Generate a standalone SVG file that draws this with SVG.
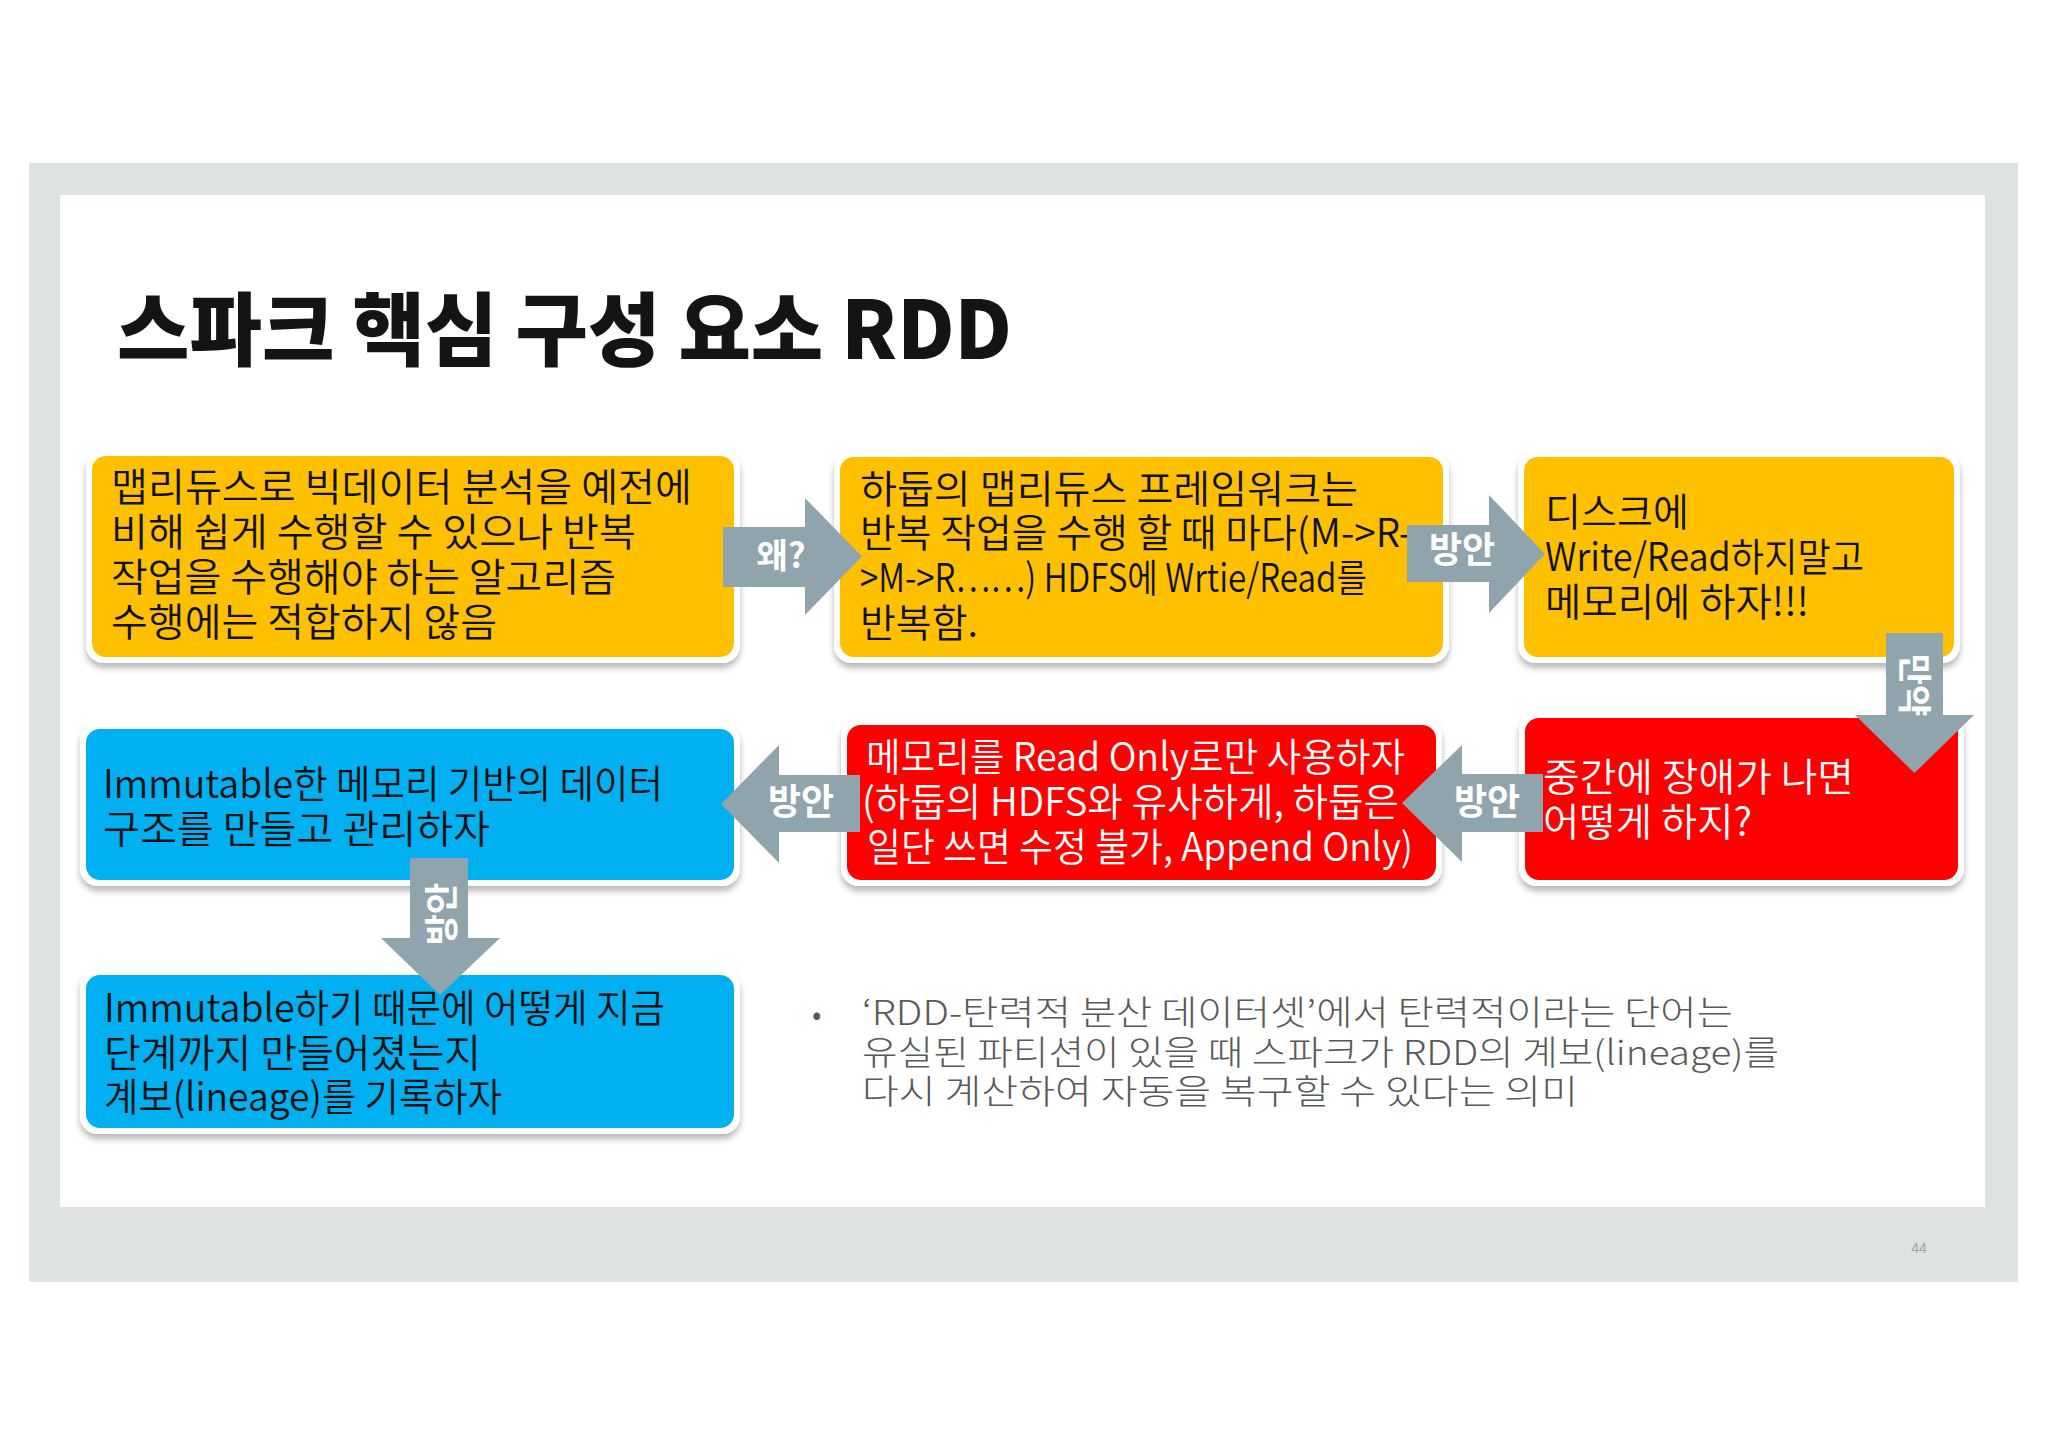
<svg xmlns="http://www.w3.org/2000/svg" width="2048" height="1447" viewBox="0 0 2048 1447">
<defs>
<filter id="sh" x="-5%" y="-10%" width="110%" height="125%">
<feDropShadow dx="0" dy="5" stdDeviation="3" flood-color="#000" flood-opacity="0.28"/>
</filter>
<style>
.frame{fill:#DEE2E2}
.slide{fill:#FFFFFF}
.outer{fill:#FFFFFF;filter:url(#sh)}
.yel{fill:#FFC000}
.blu{fill:#00B0F0}
.red{fill:#FF0000}
.t{font-family:"Noto Sans CJK KR","Liberation Sans",sans-serif;font-size:39px;font-weight:350;fill:#111111}
.w{fill:#FFFFFF}
.arrow{fill:#90A4AE}
.lab{font-family:"Noto Sans CJK KR","Liberation Sans",sans-serif;font-size:36px;font-weight:700;fill:#FFFFFF;text-anchor:middle}
.title{font-family:"Noto Sans CJK KR","Liberation Sans",sans-serif;font-size:80px;font-weight:900;fill:#141414}
.note{font-family:"Noto Sans CJK KR","Liberation Sans",sans-serif;font-size:34px;font-weight:300;fill:#595959}
</style>
</defs>
<rect width="2048" height="1447" fill="#FFFFFF"/>
<rect class="frame" x="29" y="163" width="1989" height="1119"/>
<rect class="slide" x="60" y="195" width="1925" height="1012"/>
<text class="title" x="117" y="359" textLength="895" lengthAdjust="spacingAndGlyphs">스파크 핵심 구성 요소 RDD</text>

<g id="boxA">
<rect class="outer" x="86" y="450" width="654" height="213" rx="18"/>
<rect class="yel" x="92" y="456" width="642" height="201" rx="14"/>
<text class="t" x="111" y="501" textLength="581" lengthAdjust="spacingAndGlyphs">맵리듀스로 빅데이터 분석을 예전에</text>
<text class="t" x="111" y="546" textLength="525" lengthAdjust="spacingAndGlyphs">비해 쉽게 수행할 수 있으나 반복</text>
<text class="t" x="111" y="591" textLength="505" lengthAdjust="spacingAndGlyphs">작업을 수행해야 하는 알고리즘</text>
<text class="t" x="111" y="636" textLength="386" lengthAdjust="spacingAndGlyphs">수행에는 적합하지 않음</text>
</g>

<g id="boxB">
<rect class="outer" x="834" y="451" width="615" height="212" rx="18"/>
<rect class="yel" x="840" y="457" width="603" height="200" rx="14"/>
<text class="t" x="860" y="503" textLength="498" lengthAdjust="spacingAndGlyphs">하둡의 맵리듀스 프레임워크는</text>
<text class="t" x="860" y="547" textLength="552" lengthAdjust="spacingAndGlyphs">반복 작업을 수행 할 때 마다(M-&gt;R-</text>
<text class="t" x="860" y="592" textLength="507" lengthAdjust="spacingAndGlyphs">&gt;M-&gt;R……) HDFS에 Wrtie/Read를</text>
<text class="t" x="860" y="637" textLength="118" lengthAdjust="spacingAndGlyphs">반복함.</text>
</g>

<g id="boxC">
<rect class="outer" x="1518" y="451" width="442" height="212" rx="18"/>
<rect class="yel" x="1524" y="457" width="430" height="200" rx="14"/>
<text class="t" x="1545" y="526" textLength="144" lengthAdjust="spacingAndGlyphs">디스크에</text>
<text class="t" x="1545" y="571" textLength="319" lengthAdjust="spacingAndGlyphs">Write/Read하지말고</text>
<text class="t" x="1545" y="616" textLength="264" lengthAdjust="spacingAndGlyphs">메모리에 하자!!!</text>
</g>

<g id="boxD">
<rect class="outer" x="80" y="723" width="660" height="163" rx="18"/>
<rect class="blu" x="86" y="729" width="648" height="151" rx="14"/>
<text class="t" x="103" y="798" textLength="560" lengthAdjust="spacingAndGlyphs">Immutable한 메모리 기반의 데이터</text>
<text class="t" x="103" y="843" textLength="387" lengthAdjust="spacingAndGlyphs">구조를 만들고 관리하자</text>
</g>

<g id="boxE">
<rect class="outer" x="841" y="719" width="601" height="167" rx="18"/>
<rect class="red" x="847" y="725" width="589" height="155" rx="14"/>
<text class="t w" x="866" y="771" textLength="539" lengthAdjust="spacingAndGlyphs">메모리를 Read Only로만 사용하자</text>
<text class="t w" x="862" y="816" textLength="537" lengthAdjust="spacingAndGlyphs">(하둡의 HDFS와 유사하게, 하둡은</text>
<text class="t w" x="867" y="861" textLength="546" lengthAdjust="spacingAndGlyphs">일단 쓰면 수정 불가, Append Only)</text>
</g>

<g id="boxF">
<rect class="outer" x="1519" y="712" width="445" height="174" rx="18"/>
<rect class="red" x="1525" y="718" width="433" height="162" rx="14"/>
<text class="t w" x="1543" y="791" textLength="311" lengthAdjust="spacingAndGlyphs">중간에 장애가 나면</text>
<text class="t w" x="1543" y="836" textLength="209" lengthAdjust="spacingAndGlyphs">어떻게 하지?</text>
</g>

<g id="boxG">
<rect class="outer" x="80" y="969" width="660" height="165" rx="18"/>
<rect class="blu" x="86" y="975" width="648" height="153" rx="14"/>
<text class="t" x="104" y="1022" textLength="561" lengthAdjust="spacingAndGlyphs">Immutable하기 때문에 어떻게 지금</text>
<text class="t" x="104" y="1067" textLength="377" lengthAdjust="spacingAndGlyphs">단계까지 만들어졌는지</text>
<text class="t" x="104" y="1111" textLength="398" lengthAdjust="spacingAndGlyphs">계보(lineage)를 기록하자</text>
</g>

<g id="connectors">
<g id="arrow-why">
<path class="arrow" d="M723,527 H805 V498 L862,556.5 L805,615 V587 H723 Z"/>
<text class="lab" x="781" y="568" style="font-size:34px">왜?</text>
</g>
<g id="arrow-b-c">
<path class="arrow" d="M1407,525 H1489 V495 L1545,554 L1489,613 V582 H1407 Z"/>
<text class="lab" x="1462" y="563">방안</text>
</g>
<g id="arrow-c-f">
<path class="arrow" d="M1886,633 H1943 V715 H1974 L1914.5,773 L1855,715 H1886 Z"/>
<text class="lab" transform="translate(1914,685) rotate(90)" x="0" y="12" style="font-size:34px">만약</text>
</g>
<g id="arrow-f-e">
<path class="arrow" d="M1543,774 V832 H1462 V862 L1402,803 L1462,745 V774 Z"/>
<text class="lab" x="1487" y="815">방안</text>
</g>
<g id="arrow-e-d">
<path class="arrow" d="M860,775 V832 H779 V863 L721,804 L779,745 V775 Z"/>
<text class="lab" x="801" y="815">방안</text>
</g>
<g id="arrow-d-g">
<path class="arrow" d="M410,858 H468 V938 H500 L440,995 L381,938 H410 Z"/>
<text class="lab" transform="translate(442,914) rotate(-90)" x="0" y="12" style="font-size:34px">방안</text>
</g>
</g>

<g id="note">
<text class="note" x="812" y="1025" style="font-size:30px">•</text>
<text class="note" x="862" y="1025" textLength="871" lengthAdjust="spacingAndGlyphs">‘RDD-탄력적 분산 데이터셋’에서 탄력적이라는 단어는</text>
<text class="note" x="862" y="1065" textLength="917" lengthAdjust="spacingAndGlyphs">유실된 파티션이 있을 때 스파크가 RDD의 계보(lineage)를</text>
<text class="note" x="862" y="1104" textLength="716" lengthAdjust="spacingAndGlyphs">다시 계산하여 자동을 복구할 수 있다는 의미</text>
</g>
<text x="1919" y="1253" text-anchor="middle" style="font-family:'Liberation Sans',sans-serif;font-size:14px;fill:#A0A4A4">44</text>
</svg>
